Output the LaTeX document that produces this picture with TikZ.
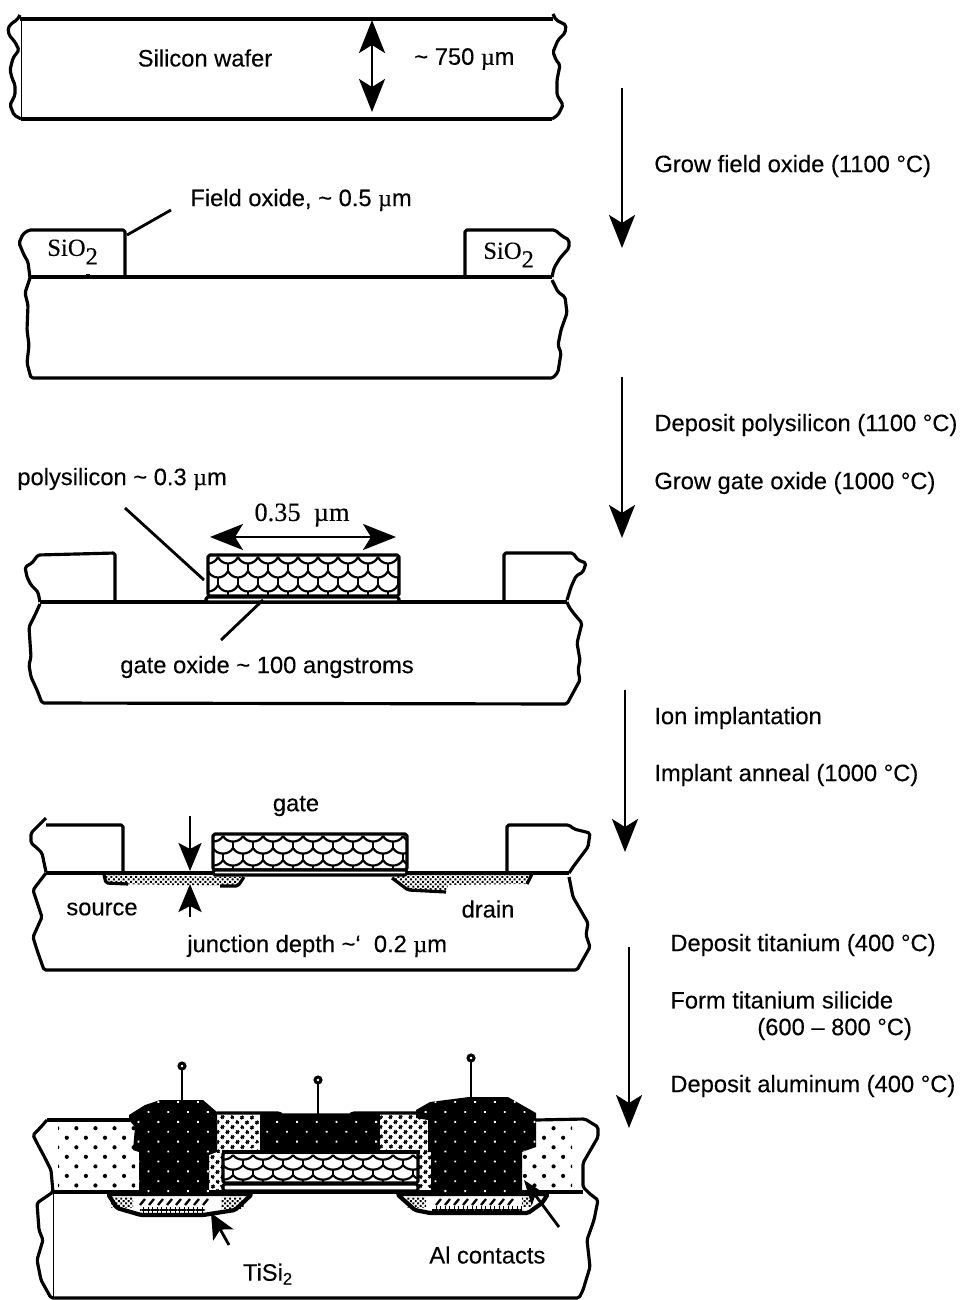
\documentclass[tikz,border=0pt]{standalone}
\usepackage{fontspec}
\setmainfont{Liberation Sans}[UprightFeatures={FakeBold=0.25}]
\newfontfamily\serifface{Liberation Serif}[UprightFeatures={FakeBold=0.25}]
\usetikzlibrary{arrows.meta, patterns.meta}
\tikzset{every node/.append style={align=left, inner sep=0pt}}

% scale texture of the polysilicon gate, #5 is the row pitch
\newcommand{\polyscales}[5]{%
  \begin{scope}
    \clip (#1,#2) rectangle (#3,#4);
    \foreach \row in {0,1,2,3}
      \foreach \col in {0,...,11} {
        \pgfmathsetmacro\px{#1-10+20*\col-10*mod(\row,2)}
        \pgfmathsetmacro\py{#2+1+#5*\row}
        \pgfmathsetmacro\sag{#5*0.62}
        \pgfmathsetmacro\tail{#5*0.5}
        \draw[line width=1.25pt] (\px,\py) .. controls +(4,\sag) and +(-4,\sag) .. +(20,0);
        \draw[line width=1.25pt] (\px,\py) ++(10,\tail) -- ++(0,\tail);
      }
  \end{scope}
}

\begin{document}
\begin{tikzpicture}[
  x=0.02cm, y=-0.02cm,
  edge/.style={line width=1.8pt, line join=round, rounded corners=1pt},
  thinedge/.style={line width=0.5pt},
  leader/.style={line width=1.6pt},
  procarrow/.style={line width=1.6pt, -{Stealth[length=0.66cm, width=0.52cm, inset=0.16cm]}},
  dimarrow/.style={line width=1.6pt, {Stealth[length=0.66cm, width=0.52cm, inset=0.16cm]}-{Stealth[length=0.66cm, width=0.52cm, inset=0.16cm]}},
  smallarrow/.style={line width=1.6pt, -{Stealth[length=0.56cm, width=0.46cm, inset=0.12cm]}},
  lab/.style={font=\fontsize{13.5}{16}\selectfont},
  chem/.style={font=\fontsize{14}{16}\selectfont\serifface},
  fieldox/.style={pattern={Dots[distance=0.27cm, radius=0.042cm, angle=45]}},
  sidewall/.style={pattern={Dots[distance=0.14cm, radius=0.04cm, angle=45]}},
  junction/.style={pattern={Dots[distance=0.07cm, radius=0.028cm, angle=45]}},
  metal/.style={fill=black, postaction={pattern={Dots[distance=0.28cm, radius=0.026cm, angle=45]}, pattern color=white}},
  pin/.style={line width=1.7pt, fill=white}
]
\useasboundingbox (0,0) rectangle (965,1300);

% Process arrows on the right
\coordinate (s1t) at (622,88);   \coordinate (s1b) at (622,248);
\coordinate (s2t) at (622,377);  \coordinate (s2b) at (622,538);
\coordinate (s3t) at (625,690);  \coordinate (s3b) at (625,852);
\coordinate (s4t) at (629,947);  \coordinate (s4b) at (629,1128);
\foreach \a/\b in {s1t/s1b, s2t/s2b, s3t/s3b, s4t/s4b}
  \draw[procarrow] (\a) -- (\b);

\node[lab, anchor=west] (growfield) at (654,166) {Grow field oxide (1100 °C)};
\node[lab, anchor=west] (deppoly) at (654,425) {Deposit polysilicon (1100 °C)};
\node[lab, anchor=west] (growgate) at (654,483) {Grow gate oxide (1000 °C)};
\node[lab, anchor=west] (ionimp) at (654,718) {Ion implantation};
\node[lab, anchor=west] (anneal) at (654,775) {Implant anneal (1000 °C)};
\node[lab, anchor=west] (depti) at (670,945) {Deposit titanium (400 °C)};
\node[lab, anchor=west] (formsi) at (670,1000) {Form titanium silicide};
\node[lab, anchor=west] (formtemp) at (757,1029) {(600 – 800 °C)};
\node[lab, anchor=west] (depal) at (670,1086) {Deposit aluminum (400 °C)};

% Panel 1: wafer
\draw[edge] (20,15) -- (17,20) -- (12,23) -- (8,28) -- (9,35) -- (15,42) -- (19,50) -- (13,58) -- (10,70)
  -- (12,78) -- (15,85) -- (15,95) -- (10,105) -- (14,115) -- (21,119);
\draw[edge] (553,14) -- (556,20) -- (566,25) -- (565,33) -- (558,40) -- (553,52) -- (556,60) -- (560,65)
  -- (557,80) -- (557,95) -- (563,105) -- (558,115) -- (552,119);
\draw[edge] (20,19) -- (553,19);
\draw[edge] (21,119) -- (552,119);
\draw[thinedge] (21,19) -- (21,119);
\coordinate (w1t) at (372,20);
\coordinate (w1b) at (372,112);
\draw[dimarrow] (w1t) -- (w1b);
\node[lab] (wafer) at (205,58) {Silicon wafer};
\node[lab, anchor=west] (thick) at (414,59) {\textasciitilde{} 750 {\serifface µ}m};

% Panel 2: field oxide
\draw[edge] (30,278) -- (28,262) -- (24,255) -- (19,243) -- (23,234) -- (29,230) -- (125,230) -- (125,277);
\draw[edge] (465,277) -- (465,230) -- (555,230) -- (562,236) -- (569,240) -- (569,248) -- (560,258) -- (554,268) -- (552,277);
\draw[edge] (30,277) -- (552,277);
\draw[edge] (88,277) -- (88,274);
\draw[edge] (30,278) -- (25,293) -- (28,305) -- (27,330) -- (29,345) -- (27,363) -- (31,378) -- (553,378) -- (558,372)
  -- (561,353) -- (558,345) -- (561,330) -- (567,313) -- (565,297) -- (558,292) -- (552,280);
\coordinate (fo1) at (171,210);
\coordinate (fo2) at (127,235);
\draw[leader] (fo1) -- (fo2);
\node[lab, anchor=west] (fieldlab) at (190,200) {Field oxide, \textasciitilde{} 0.5 {\serifface µ}m};
\node[chem, anchor=west] (sio1) at (47,252) {SiO\raisebox{-0.35em}{2}};
\node[chem, anchor=west] (sio2) at (483,255) {SiO\raisebox{-0.35em}{2}};

% Panel 3: gate patterned
\draw[edge] (40,602) -- (38,592) -- (31,585) -- (27,577) -- (25,567) -- (32,563) -- (38,555) -- (115,553) -- (115,602);
\draw[edge] (504,602) -- (504,553) -- (573,553) -- (578,560) -- (586,563) -- (583,572) -- (576,576) -- (571,587) -- (567,600);
\draw[edge] (40,602) -- (567,602);
\draw[edge] (40,604) -- (35,615) -- (29,627) -- (31,657) -- (29,665) -- (31,677) -- (37,690) -- (42,703) -- (567,704) -- (580,680)
  -- (578,670) -- (580,660) -- (577,643) -- (582,623) -- (575,615) -- (569,607) -- (567,602);
\polyscales{208}{556}{399}{596}{14}
\draw[edge] (208,555) rectangle (399,596);
\draw[edge, fill=white] (206,597) rectangle (399,602);
\coordinate (ps1) at (125,508);
\coordinate (ps2) at (204,580);
\draw[leader] (ps1) -- (ps2);
\coordinate (go1) at (263,600);
\coordinate (go2) at (221,640);
\draw[leader] (go1) -- (go2);
\coordinate (gw1) at (210,537);
\coordinate (gw2) at (396,537);
\draw[dimarrow] (gw1) -- (gw2);
\node[font=\fontsize{15}{17}\selectfont\serifface] (gwlab) at (302,515) {0.35 \ µm};
\node[lab, anchor=west] (polylab) at (17,479) {polysilicon \textasciitilde{} 0.3 {\serifface µ}m};
\node[lab, anchor=west] (oxlab) at (120,667) {gate oxide \textasciitilde{} 100 angstroms};

% Panel 4: source and drain implanted
\fill[junction] (104,875) -- (106,884) -- (238,886) -- (244,877) -- cycle;
\fill[junction] (392,878) -- (408,890) -- (446,892) -- (448,885) -- (527,884) -- (533,872) -- (407,874) -- cycle;
\draw[edge] (104,875) -- (106,883) -- (128,884);
\draw[edge] (220,886) -- (238,886) -- (244,877);
\draw[edge] (392,878) -- (408,890) -- (446,892);
\draw[edge] (527,884) -- (533,872);
\draw[edge] (46,818) -- (31,833) -- (31,843) -- (37,848) -- (42,853) -- (46,872);
\draw[edge] (46,825) -- (123,825) -- (123,873);
\draw[edge] (507,873) -- (507,825) -- (569,825) -- (574,829) -- (590,833) -- (588,847) -- (573,867) -- (569,873);
\draw[edge] (46,873) -- (569,873);
\draw[edge] (46,873) -- (33,890) -- (38,905) -- (42,917) -- (33,937) -- (37,950) -- (44,970) -- (577,970)
  -- (590,947) -- (586,935) -- (588,923) -- (573,897) -- (569,877);
\polyscales{213}{835}{407}{870}{12}
\draw[edge] (213,834) rectangle (407,870);
\draw[edge, fill=white] (213,870) rectangle (407,875);
\coordinate (jd1) at (190,816);
\coordinate (jd2) at (190,871);
\draw[smallarrow] (jd1) -- (jd2);
\coordinate (ju1) at (190,917);
\coordinate (ju2) at (190,884);
\draw[smallarrow] (ju1) -- (ju2);
\node[lab] (gatelab) at (296,806) {gate};
\node[lab] (srclab) at (102,909) {source};
\node[lab] (drnlab) at (488,909) {drain};
\node[lab, anchor=west] (jdlab) at (187,946) {junction depth \textasciitilde{`} \ 0.2 {\serifface µ}m};

% Panel 5: finished device
\fill[fieldox] (58,1124) rectangle (135,1189);
\fill[fieldox] (538,1124) rectangle (572,1152);
\fill[fieldox] (522,1152) rectangle (572,1189);
\fill[sidewall] (217,1115) rectangle (260,1152);
\fill[sidewall] (380,1115) rectangle (428,1152);
\fill[sidewall] (209,1155) rectangle (222,1190);
\fill[sidewall] (418,1153) rectangle (431,1188);
\draw[edge] (47,1120) -- (40,1128) -- (33,1135) -- (37,1143) -- (45,1158) -- (51,1170) -- (53,1192) -- (37,1203) -- (39,1230)
  -- (43,1240) -- (37,1260) -- (41,1280) -- (51,1298) -- (579,1298) -- (583,1290) -- (590,1267)
  -- (587,1240) -- (594,1220) -- (598,1200) -- (590,1194) -- (583,1187) -- (583,1163) -- (598,1137) -- (598,1127)
  -- (585,1119) -- (536,1120);
\draw[edge] (47,1120) -- (130,1120);
\draw[edge] (217,1113) -- (280,1113) -- (280,1115) -- (352,1115) -- (352,1113) -- (418,1113);
\draw[thinedge] (53,1192) -- (53,1298);
\draw[edge] (53,1192) -- (583,1192);
% junction wells
\draw[edge, line width=2.4pt, fill=white] (108,1194) -- (117,1208) -- (141,1215) -- (203,1215) -- (235,1210) -- (252,1194) -- cycle;
\draw[edge, line width=2.4pt, fill=white] (397,1194) -- (415,1210) -- (430,1213) -- (528,1213) -- (542,1203) -- (548,1194) -- cycle;
\fill[junction] (111,1197) rectangle (133,1207);
\fill[junction] (221,1197) rectangle (244,1208);
\fill[junction] (407,1197) rectangle (426,1207);
\fill[junction] (522,1197) rectangle (532,1206);
\foreach \hx in {140,149,...,210}
  \draw[line width=1.3pt] (\hx,1205) -- ++(5,-6);
\foreach \hx in {436,445,...,512}
  \draw[line width=1.3pt] (\hx,1205) -- ++(5,-6);
\fill[pattern={Hatch[distance=0.09cm, line width=0.6pt]}] (140,1207) rectangle (205,1213);
\fill[pattern={Hatch[distance=0.09cm, line width=0.6pt]}] (432,1206) rectangle (522,1211);
% aluminium contacts
\path[metal] (129,1115) -- (145,1105) -- (160,1100) -- (203,1100) -- (217,1112) -- (217,1152) -- (209,1155)
  -- (209,1192) -- (139,1192) -- (139,1152) -- (133,1150) -- (135,1127) -- (129,1120) -- cycle;
\path[metal] (260,1114) rectangle (380,1152);
\path[metal] (416,1110) -- (430,1102) -- (469,1097) -- (508,1097) -- (536,1113) -- (536,1147) -- (522,1152)
  -- (522,1193) -- (431,1192) -- (431,1152) -- (428,1152) -- (428,1120) -- (416,1118) -- cycle;
\fill[black] (222,1150) rectangle (420,1154);
\polyscales{223}{1154}{418}{1183}{10}
\draw[edge] (223,1152) rectangle (418,1183);
\draw[edge, fill=white] (223,1184) rectangle (418,1191);
% contact pins
\coordinate (c1a) at (182,1100);  \coordinate (c1b) at (182,1070);
\coordinate (c2a) at (318,1114);  \coordinate (c2b) at (318,1084);
\coordinate (c3a) at (471,1097);  \coordinate (c3b) at (471,1062);
\foreach \a/\b in {c1a/c1b, c2a/c2b, c3a/c3b}
  \draw[leader] (\a) -- (\b);
\draw[pin] (182,1066) circle (0.06cm);
\draw[pin] (318,1080) circle (0.06cm);
\draw[pin] (471,1058) circle (0.06cm);
% callouts
\coordinate (ta1) at (229,1245);
\coordinate (ta2) at (211,1213);
\draw[line width=1.6pt, -{Stealth[length=0.5cm, width=0.46cm, inset=0.12cm]}] (ta1) -- (ta2);
\coordinate (al1) at (559,1227);
\coordinate (al2) at (524,1180);
\draw[line width=1.6pt, -{Stealth[length=0.5cm, width=0.36cm, inset=0.12cm]}] (al1) -- (al2);
\node[lab] (tilab) at (268,1274) {TiSi\textsubscript{2}};
\node[lab, anchor=west] (allab) at (429,1255) {Al contacts};

\end{tikzpicture}
\end{document}
